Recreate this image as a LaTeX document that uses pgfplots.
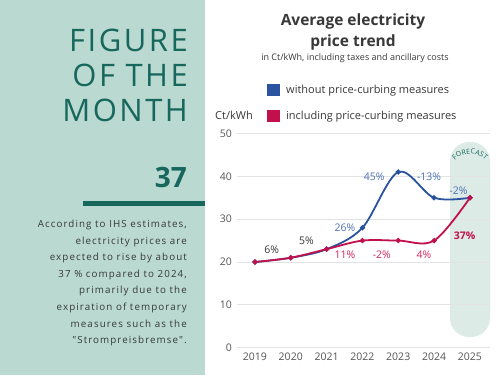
\documentclass[border=0pt]{standalone}
\usepackage{fontspec}
\setmainfont{Open Sans}
\usepackage{pgfplots}
\pgfplotsset{compat=1.18}
\usetikzlibrary{decorations.text}
\definecolor{bgteal}{HTML}{B9D9D1}
\definecolor{darkteal}{HTML}{17675C}
\definecolor{lineblue}{HTML}{2B54A0}
\definecolor{labblue}{HTML}{4D72B5}
\definecolor{linered}{HTML}{C2104C}
\definecolor{labred}{HTML}{D0285F}
\definecolor{band}{HTML}{DDEBE6}
\definecolor{gridgray}{HTML}{E3E3E3}
\definecolor{txtgray}{HTML}{383838}
\definecolor{tickgray}{HTML}{555555}
\newfontfamily\spaced[LetterSpace=8]{Open Sans}
\newfontfamily\bodyspaced[LetterSpace=11]{Open Sans}
\begin{document}
\begin{tikzpicture}[x=1pt,y=1pt]
\useasboundingbox (0,0) rectangle (500,375);
\fill[white] (0,0) rectangle (500,375);
\fill[bgteal] (0,0) rectangle (205,375);
% left panel
\begin{scope}[every node/.style={anchor=base east, inner sep=0pt, text=darkteal}]
\node[font=\spaced\fontsize{31}{35}\selectfont] at (188,323) {FIGURE};
\node[font=\spaced\fontsize{31}{35}\selectfont] at (188,288) {OF THE};
\node[font=\spaced\fontsize{31}{35}\selectfont] at (188,253) {MONTH};
\node[font=\bfseries\fontsize{28}{32}\selectfont] at (187,187) {37};
\end{scope}
\fill[darkteal] (83,169) rectangle (205,173.5);
\begin{scope}[every node/.style={anchor=base east, inner sep=0pt, text=txtgray, font=\bodyspaced\fontsize{9.8}{11}\selectfont}]
\node at (187,147.5) {According to IHS estimates,};
\node at (187,130.9) {electricity prices are};
\node at (187,114.3) {expected to rise by about\hspace{3.5pt}};
\node at (187,97.7) {37 \% compared to 2024,};
\node at (187,81.1) {primarily due to the};
\node at (187,64.5) {expiration of temporary};
\node at (187,47.9) {measures such as the};
\node at (187,31.3) {"Strompreisbremse".};
\end{scope}
% title
\node[font=\bfseries\fontsize{15.5}{18}\selectfont, text=txtgray, inner sep=0pt, anchor=base] at (353,349) {Average electricity};
\node[font=\bfseries\fontsize{15.5}{18}\selectfont, text=txtgray, inner sep=0pt, anchor=base] at (353,328) {price trend};
\node[font=\fontsize{9}{11}\selectfont, text=txtgray, inner sep=0pt, anchor=base] at (355,314) {in Ct/kWh, including taxes and ancillary costs};
% legend
\fill[lineblue] (267,278.5) rectangle (280,291);
\node[anchor=base west, inner sep=0pt, font=\fontsize{11}{13}\selectfont, text=txtgray] at (286,281) {without price-curbing measures};
\fill[linered] (267,252.5) rectangle (280,265);
\node[anchor=base west, inner sep=0pt, font=\fontsize{11}{13}\selectfont, text=txtgray] at (286,255) {including price-curbing measures};
\node[anchor=base west, inner sep=0pt, font=\fontsize{11}{13}\selectfont, text=txtgray] at (215,255) {Ct/kWh};
% forecast band
\fill[band, rounded corners=19pt] (450,38) rectangle (490,233);
\path[decorate, decoration={text along path, text align=center, text={|\fontsize{7}{8}\selectfont\color{darkteal}|FORECAST}}] (470,200) ++(155:21) arc[start angle=155, end angle=25, radius=21];
\begin{axis}[at={(237pt,27.3pt)}, anchor=south west, scale only axis,
  width=253pt, height=214.2pt,
  xmin=2018.5, xmax=2025.56, ymin=0, ymax=50,
  axis line style={draw=none}, major tick length=0pt,
  ymajorgrids, grid style={gridgray, line width=0.8pt},
  xtick={2019,...,2025}, ytick={0,10,...,50},
  /pgf/number format/1000 sep={},
  /pgf/number format/assume math mode=true,
  ticklabel style={font=\fontsize{10.5}{12}\selectfont, text=tickgray},
  yticklabel style={anchor=east, inner sep=0pt, xshift=-5pt},
  xticklabel style={anchor=north, inner sep=0pt, yshift=-5pt},
  clip=false]
\addplot[lineblue, line width=1.8pt, smooth, tension=0.55, mark=*, mark size=1.6pt] coordinates {
(2019,20) (2020,21) (2021,23) (2022,28) (2023,41) (2024,35) (2025,35)};
\addplot[linered, line width=1.8pt, smooth, tension=0.55, mark=*, mark size=1.6pt] coordinates {
(2019,20) (2020,21) (2021,23) (2022,25) (2023,25) (2024,25) (2025,35)};
\begin{scope}[every node/.style={font=\fontsize{10.5}{12}\selectfont, inner sep=0pt}]
\node[text=txtgray] at (axis cs:2019.47,22.8) {6\%};
\node[text=txtgray] at (axis cs:2020.44,25.0) {5\%};
\node[text=labblue] at (axis cs:2021.51,27.9) {26\%};
\node[text=labblue] at (axis cs:2022.33,39.8) {45\%};
\node[text=labblue] at (axis cs:2023.86,39.8) {-13\%};
\node[text=labblue] at (axis cs:2024.68,36.7) {-2\%};
\node[text=labred] at (axis cs:2021.51,21.7) {11\%};
\node[text=labred] at (axis cs:2022.54,21.7) {-2\%};
\node[text=labred] at (axis cs:2023.72,21.7) {4\%};
\node[text=linered, font=\bfseries\fontsize{10.5}{12}\selectfont] at (axis cs:2024.85,26.1) {37\%};
\end{scope}
\end{axis}
\end{tikzpicture}
\end{document}
